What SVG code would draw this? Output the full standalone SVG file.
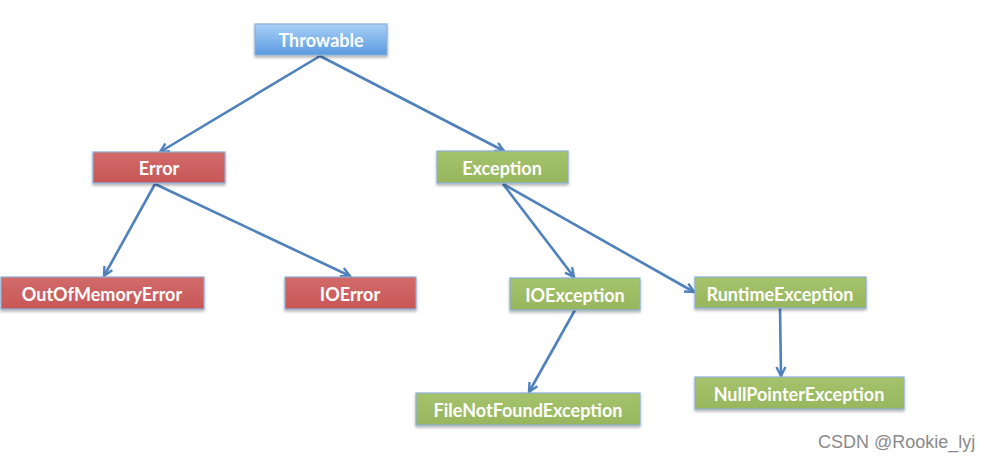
<svg xmlns="http://www.w3.org/2000/svg" width="991" height="461" viewBox="0 0 991 461">
<defs>
<linearGradient id="gBlue" x1="0" y1="0" x2="0" y2="1"><stop offset="0" stop-color="#a9d0f7"/><stop offset="1" stop-color="#5a9ae0"/></linearGradient>
<linearGradient id="gRed" x1="0" y1="0" x2="0" y2="1"><stop offset="0" stop-color="#d26a6a"/><stop offset="1" stop-color="#c85757"/></linearGradient>
<linearGradient id="gGreen" x1="0" y1="0" x2="0" y2="1"><stop offset="0" stop-color="#a5c36c"/><stop offset="1" stop-color="#98b65c"/></linearGradient>
<filter id="sh" x="-10%" y="-20%" width="120%" height="150%"><feDropShadow dx="0" dy="2" stdDeviation="1.5" flood-color="#000" flood-opacity="0.3"/></filter>
<marker id="arr" viewBox="0 0 12 12" refX="10" refY="6" markerWidth="12" markerHeight="12" markerUnits="userSpaceOnUse" orient="auto">
<path d="M1,1.5 L10,6 L1,10.5" fill="none" stroke="#4f81bd" stroke-width="2.4" stroke-linejoin="miter"/>
</marker>
<style>
.box{stroke:#8aaed6;stroke-width:1.2;filter:url(#sh)}
.blue{fill:url(#gBlue)}
.red{fill:url(#gRed)}
.green{fill:url(#gGreen)}
.lbl{font-family:Lato,"Open Sans","Liberation Sans",sans-serif;font-size:18px;font-weight:700;fill:#fff;text-anchor:middle;dominant-baseline:central}
.edge{stroke:#4f81bd;stroke-width:2.6;fill:none;marker-end:url(#arr)}
.wm{font-family:"Liberation Sans",Arial,sans-serif;font-size:18px;fill:#8a8a8a}
</style>
</defs>
<rect width="991" height="461" fill="#fff"/>
<g id="connectors">
<line class="edge" x1="320" y1="56" x2="160" y2="152"/>
<line class="edge" x1="320" y1="56" x2="504" y2="151"/>
<line class="edge" x1="155" y1="184" x2="104" y2="276"/>
<line class="edge" x1="155" y1="184" x2="350" y2="276"/>
<line class="edge" x1="503" y1="184" x2="574" y2="277"/>
<line class="edge" x1="503" y1="184" x2="694" y2="292"/>
<line class="edge" x1="575" y1="310" x2="529" y2="392"/>
<line class="edge" x1="780" y1="308" x2="781" y2="376"/>
</g>
<g id="throwable"><rect class="box blue" x="255" y="24" width="132" height="31"/><text class="lbl" x="321" y="40">Throwable</text></g>
<g id="error"><rect class="box red" x="93" y="152" width="132" height="31"/><text class="lbl" x="159" y="168">Error</text></g>
<g id="exception"><rect class="box green" x="437" y="151" width="131" height="32"/><text class="lbl" x="502" y="168">Exception</text></g>
<g id="outofmemoryerror"><rect class="box red" x="1" y="277" width="203" height="32"/><text class="lbl" x="102" y="294">OutOfMemoryError</text></g>
<g id="ioerror"><rect class="box red" x="285" y="277" width="131" height="32"/><text class="lbl" x="350" y="294">IOError</text></g>
<g id="ioexception"><rect class="box green" x="510" y="278" width="130" height="32"/><text class="lbl" x="575" y="295">IOException</text></g>
<g id="runtimeexception"><rect class="box green" x="695" y="277" width="171" height="31"/><text class="lbl" x="780" y="294">RuntimeException</text></g>
<g id="filenotfoundexception"><rect class="box green" x="416" y="393" width="224" height="32"/><text class="lbl" x="528" y="410">FileNotFoundException</text></g>
<g id="nullpointerexception"><rect class="box green" x="695" y="377" width="209" height="32"/><text class="lbl" x="799" y="394">NullPointerException</text></g>
<text class="wm" x="818" y="448">CSDN @Rookie_lyj</text>
</svg>
